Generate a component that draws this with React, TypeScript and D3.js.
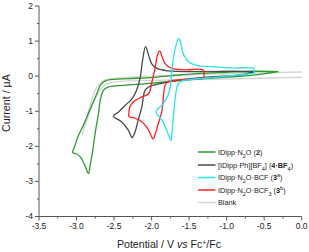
import * as d3 from "d3";

type Pt = [number, number];

// potential (V vs Fc+/Fc), current (µA); forward sweep then return sweep
const green: Pt[] = [
  [-0.31, 0.13], [-0.65, 0.03], [-1.0, -0.03], [-1.35, -0.08], [-1.7, -0.14], [-2.0, -0.2],
  [-2.3, -0.25], [-2.5, -0.28], [-2.58, -0.31], [-2.64, -0.4], [-2.68, -0.65], [-2.71, -1.1],
  [-2.75, -1.6], [-2.79, -2.2], [-2.82, -2.55], [-2.84, -2.78], [-2.89, -2.54], [-2.95, -2.3],
  [-3.0, -2.21], [-3.05, -2.18],
  [-3.02, -1.97], [-2.98, -1.72], [-2.92, -1.45], [-2.85, -1.1], [-2.78, -0.75], [-2.73, -0.5],
  [-2.68, -0.25], [-2.62, -0.14], [-2.55, -0.1], [-2.3, -0.07], [-2.0, -0.04], [-1.6, 0.04],
  [-1.35, 0.08], [-1.0, 0.11], [-0.65, 0.14], [-0.31, 0.13],
];

const black: Pt[] = [
  [-0.62, 0.12], [-0.82, 0.03], [-1.22, -0.02], [-1.6, -0.1], [-1.9, -0.22], [-2.04, -0.31],
  [-2.09, -0.42], [-2.13, -0.88], [-2.18, -1.26], [-2.22, -1.59], [-2.26, -1.75], [-2.31, -1.54],
  [-2.4, -1.3], [-2.51, -1.14],
  [-2.44, -1.02], [-2.35, -0.83], [-2.26, -0.64], [-2.2, -0.4], [-2.15, -0.02], [-2.12, 0.46],
  [-2.08, 0.84], [-2.04, 0.6], [-2.0, 0.36], [-1.93, 0.22], [-1.78, 0.15], [-1.3, 0.13],
  [-0.9, 0.14], [-0.62, 0.12],
];

const cyan: Pt[] = [
  [-0.64, 0.08], [-1.0, 0.0], [-1.3, -0.06], [-1.5, -0.1], [-1.6, -0.14], [-1.65, -0.24],
  [-1.67, -0.4], [-1.69, -0.7], [-1.71, -1.16], [-1.73, -1.64], [-1.74, -1.83], [-1.8, -1.54],
  [-1.86, -1.26], [-1.94, -1.02],
  [-1.9, -0.9], [-1.86, -0.83], [-1.82, -0.69], [-1.78, -0.54], [-1.75, -0.3], [-1.73, 0.17],
  [-1.69, 0.74], [-1.64, 1.08], [-1.61, 0.93], [-1.58, 0.65], [-1.51, 0.41], [-1.4, 0.31],
  [-1.22, 0.27], [-0.9, 0.23], [-0.64, 0.22], [-0.64, 0.08],
];

const red: Pt[] = [
  [-1.31, -0.07], [-1.5, -0.09], [-1.66, -0.11], [-1.78, -0.16], [-1.82, -0.26], [-1.84, -0.5],
  [-1.86, -0.97], [-1.91, -1.35], [-1.95, -1.64], [-1.98, -1.79], [-2.04, -1.54], [-2.13, -1.3],
  [-2.24, -1.18], [-2.3, -1.16],
  [-2.3, -1.0], [-2.29, -0.88], [-2.24, -0.73], [-2.13, -0.59], [-2.04, -0.5], [-2.0, -0.21],
  [-1.95, 0.27], [-1.92, 0.62], [-1.89, 0.72], [-1.86, 0.55], [-1.82, 0.36], [-1.73, 0.22],
  [-1.55, 0.18], [-1.31, 0.17], [-1.31, -0.07],
];

const blank: Pt[] = [
  [0.0, -0.03], [-1.0, -0.08], [-2.0, -0.12], [-2.5, -0.17], [-2.62, -0.25], [-2.72, -0.5],
  [-2.82, -1.0], [-2.93, -1.7],
  [-2.86, -1.16], [-2.8, -0.69], [-2.73, -0.31], [-2.64, -0.13], [-2.51, -0.07], [-2.0, 0.0],
  [-1.0, 0.07], [0.0, 0.12],
];

const xTicks = [-3.5, -3.0, -2.5, -2.0, -1.5, -1.0, -0.5, 0.0];
const yTicks = [2, 1, 0, -1, -2, -3, -4];

const W = 309;
const H = 252;
const AXIS = "#555";
const FONT = "'Liberation Sans', Arial, sans-serif";

const x = d3.scaleLinear().domain([-3.5, 0]).range([39, 301.7]);
const y = d3.scaleLinear().domain([-4, 2]).range([216.5, 6]);

const line = d3
  .line<Pt>()
  .x((d) => x(d[0]))
  .y((d) => y(d[1]))
  .curve(d3.curveCatmullRom.alpha(0.5));

const series = [
  { data: blank, color: "#d6d6d6", width: 1.4 },
  { data: green, color: "#2f9a2f", width: 1.3 },
  { data: black, color: "#4a4a4a", width: 1.3 },
  { data: red, color: "#ff2020", width: 1.3 },
  { data: cyan, color: "#27e4f0", width: 1.3 },
];

function Sub({ t }: { t: string }) {
  return (
    <tspan baselineShift="sub" fontSize="5.5">
      {t}
    </tspan>
  );
}

function Sup({ t }: { t: string }) {
  return (
    <tspan baselineShift="super" fontSize="5.5">
      {t}
    </tspan>
  );
}

export default function App() {
  const xMinor = d3.range(-3.5, 0.001, 0.25);
  const yMinor = d3.range(-4, 2.001, 0.5);
  const legendY = [152, 165, 177.5, 190, 202.5];
  const legendColors = ["#2f9a2f", "#4a4a4a", "#27e4f0", "#ff2020", "#d6d6d6"];
  const legendLabels = [
    <>
      IDipp·N<Sub t="2" />O (<tspan fontWeight="bold">2</tspan>)
    </>,
    <>
      [IDipp·Ph][BF<Sub t="4" />] (<tspan fontWeight="bold">4·BF</tspan>
      <Sub t="4" />)
    </>,
    <>
      IDipp·N<Sub t="2" />O·BCF (<tspan fontWeight="bold">3</tspan>
      <Sup t="a" />)
    </>,
    <>
      IDipp·N<Sub t="2" />O·BCF<Sub t="3" /> (<tspan fontWeight="bold">3</tspan>
      <Sup t="b" />)
    </>,
    <>Blank</>,
  ];

  return (
    <svg
      width={W}
      height={H}
      style={{ position: "absolute", left: 0, top: 0, background: "#fff" }}
      fontFamily={FONT}
    >
      {/* curves */}
      {series.map((s, i) => (
        <path
          key={i}
          d={line(s.data) ?? ""}
          fill="none"
          stroke={s.color}
          strokeWidth={s.width}
          strokeLinejoin="round"
        />
      ))}

      {/* axes */}
      <line x1={x(-3.5)} x2={x(-3.5)} y1={y(2)} y2={y(-4)} stroke={AXIS} strokeWidth={1} />
      <line x1={x(-3.5)} x2={x(0)} y1={y(-4)} y2={y(-4)} stroke={AXIS} strokeWidth={1} />
      {yMinor.map((v) => (
        <line
          key={`ym${v}`}
          x1={x(-3.5)}
          x2={x(-3.5) - (Number.isInteger(v) ? 4 : 2)}
          y1={y(v)}
          y2={y(v)}
          stroke={AXIS}
          strokeWidth={1}
        />
      ))}
      {xMinor.map((v) => (
        <line
          key={`xm${v}`}
          x1={x(v)}
          x2={x(v)}
          y1={y(-4)}
          y2={y(-4) + (Math.abs(v * 2 - Math.round(v * 2)) < 1e-6 ? 4 : 2)}
          stroke={AXIS}
          strokeWidth={1}
        />
      ))}
      {yTicks.map((v) => (
        <text key={`yt${v}`} x={33} y={y(v)} dy="0.35em" textAnchor="end" fontSize={8.5} fill="#222">
          {v}
        </text>
      ))}
      {xTicks.map((v) => (
        <text key={`xt${v}`} x={x(v)} y={226} dy="0.35em" textAnchor="middle" fontSize={8.5} fill="#222">
          {v.toFixed(1)}
        </text>
      ))}

      {/* axis titles */}
      <text
        transform={`translate(10,103) rotate(-90)`}
        textAnchor="middle"
        fontSize={10.7}
        fill="#222"
      >
        Current / µA
      </text>
      <text x={169} y={248} textAnchor="middle" fontSize={10.6} fill="#222">
        Potential / V <tspan fontStyle="italic">vs</tspan> Fc
        <tspan baselineShift="super" fontSize="6.8">+</tspan>/Fc
      </text>

      {/* legend */}
      {legendLabels.map((lab, i) => (
        <g key={`lg${i}`}>
          <line
            x1={198}
            x2={215.5}
            y1={legendY[i]}
            y2={legendY[i]}
            stroke={legendColors[i]}
            strokeWidth={1.5}
          />
          <text x={218} y={legendY[i]} dy="0.35em" fontSize={7.3} fill="#222">
            {lab}
          </text>
        </g>
      ))}
    </svg>
  );
}
